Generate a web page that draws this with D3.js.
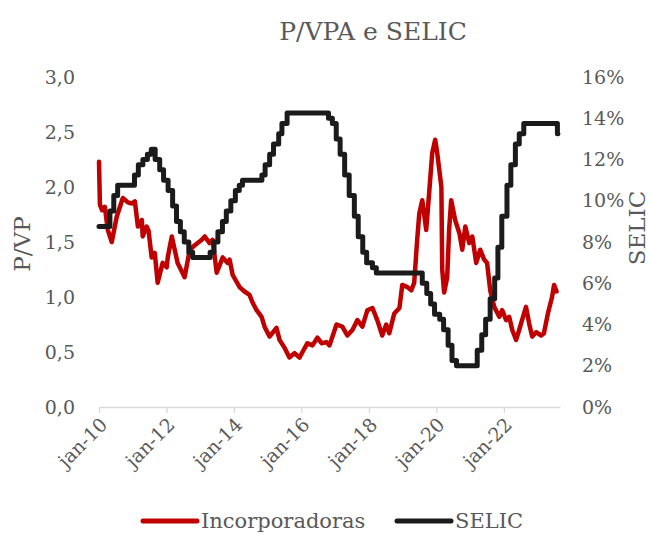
<!DOCTYPE html>
<html>
<head>
<meta charset="utf-8">
<script src="https://cdn.jsdelivr.net/npm/d3@7"></script>
<style>
    body { margin: 0; background: #fff; }
    svg text { font-family: "DejaVu Serif", serif; fill: #595959; }
</style>
</head>
<body>
<div id="chart"></div>
<script>
// Data
// P/VP das incorporadoras
var pvpDates = [
    "2010-01-01", "2010-01-11", "2010-02-03", "2010-03-05", "2010-04-06", "2010-05-19", "2010-07-12", "2010-09-16",
    "2010-11-10", "2010-12-22", "2011-01-24", "2011-02-26", "2011-04-10", "2011-04-19", "2011-06-01", "2011-06-22",
    "2011-07-25", "2011-08-28", "2011-09-28", "2011-11-21", "2012-01-04", "2012-01-15", "2012-02-28", "2012-05-01",
    "2012-07-16", "2012-09-09", "2012-11-03", "2013-01-18", "2013-02-19", "2013-04-12", "2013-05-15", "2013-06-28",
    "2013-09-01", "2013-10-25", "2013-11-15", "2013-12-18", "2014-03-03", "2014-04-25", "2014-06-18", "2014-07-21",
    "2014-09-03", "2014-10-27", "2014-11-28", "2015-01-21", "2015-04-06", "2015-05-09", "2015-07-01", "2015-08-24",
    "2015-10-18", "2015-12-12", "2016-01-13", "2016-03-06", "2016-04-30", "2016-06-22", "2016-08-06", "2016-09-28",
    "2016-10-31", "2017-01-15", "2017-03-19", "2017-05-12", "2017-07-06", "2017-08-29", "2017-10-22", "2017-12-15",
    "2018-02-08", "2018-04-01", "2018-05-25", "2018-07-07", "2018-08-09", "2018-10-02", "2018-11-27", "2018-12-28",
    "2019-02-21", "2019-04-04", "2019-05-06", "2019-06-07", "2019-06-30", "2019-08-01", "2019-09-13", "2019-10-15",
    "2019-11-17", "2019-12-19", "2020-01-10", "2020-02-24", "2020-03-04", "2020-03-25", "2020-04-27", "2020-05-18",
    "2020-06-09", "2020-07-22", "2020-09-06", "2020-10-07", "2020-11-09", "2020-12-22", "2021-01-24", "2021-03-07",
    "2021-04-19", "2021-06-01", "2021-07-03", "2021-08-06", "2021-09-18", "2021-11-12", "2021-12-13", "2022-01-25",
    "2022-02-27", "2022-04-01", "2022-05-13", "2022-06-15", "2022-07-16", "2022-08-28", "2022-10-01", "2022-11-03",
    "2022-12-16", "2023-02-09", "2023-03-10", "2023-04-22", "2023-06-06", "2023-06-28", "2023-07-25"
];
var pvpValues = [
    2.23, 1.84, 1.79, 1.82, 1.61, 1.50, 1.73, 1.90,
    1.86, 1.85, 1.87, 1.64, 1.70, 1.55, 1.64, 1.60,
    1.36, 1.40, 1.13, 1.31, 1.27, 1.36, 1.55, 1.31,
    1.18, 1.43, 1.47, 1.52, 1.55, 1.49, 1.52, 1.22,
    1.36, 1.31, 1.34, 1.20, 1.09, 1.05, 1.02, 0.95,
    0.88, 0.82, 0.73, 0.64, 0.72, 0.61, 0.54, 0.45,
    0.49, 0.45, 0.50, 0.58, 0.56, 0.63, 0.58, 0.59,
    0.56, 0.75, 0.73, 0.65, 0.70, 0.79, 0.73, 0.88,
    0.90, 0.79, 0.65, 0.75, 0.67, 0.85, 0.90, 1.11,
    1.09, 1.06, 1.13, 1.52, 1.76, 1.88, 1.61, 1.95,
    2.31, 2.43, 2.31, 2.00, 1.25, 1.04, 1.18, 1.61,
    1.88, 1.70, 1.58, 1.43, 1.64, 1.49, 1.55, 1.31,
    1.43, 1.34, 1.31, 1.06, 0.91, 0.82, 0.88, 0.79,
    0.82, 0.70, 0.61, 0.70, 0.79, 0.91, 0.76, 0.64,
    0.68, 0.65, 0.67, 0.85, 1.00, 1.11, 1.05
];

// SELIC: datas de mudanca da meta (% a.a.)
var selicDates = [
    "2010-01-01", "2010-04-29", "2010-06-10", "2010-07-22", "2011-01-20", "2011-03-03", "2011-04-21", "2011-06-09",
    "2011-07-21", "2011-09-01", "2011-10-20", "2011-12-01", "2012-01-19", "2012-03-08", "2012-04-19", "2012-05-31",
    "2012-07-12", "2012-08-30", "2012-10-11", "2013-04-18", "2013-05-30", "2013-07-11", "2013-08-29", "2013-10-10",
    "2013-11-28", "2014-01-16", "2014-02-27", "2014-04-03", "2014-10-30", "2014-12-04", "2015-01-22", "2015-03-05",
    "2015-04-30", "2015-06-04", "2015-07-30", "2016-10-20", "2016-12-01", "2017-01-12", "2017-02-23", "2017-04-13",
    "2017-06-01", "2017-07-27", "2017-09-07", "2017-10-26", "2017-12-07", "2018-02-08", "2018-03-22", "2019-08-01",
    "2019-09-19", "2019-10-31", "2019-12-12", "2020-02-06", "2020-03-19", "2020-05-07", "2020-06-18", "2020-08-06",
    "2021-03-18", "2021-05-06", "2021-06-17", "2021-08-05", "2021-09-23", "2021-10-28", "2021-12-09", "2022-02-03",
    "2022-03-17", "2022-05-05", "2022-06-16", "2022-08-04", "2023-08-03", "2023-08-08"
];
var selicValues = [
    8.75, 9.50, 10.25, 10.75, 11.25, 11.75, 12.00, 12.25,
    12.50, 12.00, 11.50, 11.00, 10.50, 9.75, 9.00, 8.50,
    8.00, 7.50, 7.25, 7.50, 8.00, 8.50, 9.00, 9.50,
    10.00, 10.50, 10.75, 11.00, 11.25, 11.75, 12.25, 12.75,
    13.25, 13.75, 14.25, 14.00, 13.75, 13.00, 12.25, 11.25,
    10.25, 9.25, 8.25, 7.50, 7.00, 6.75, 6.50, 6.00,
    5.50, 5.00, 4.50, 4.25, 3.75, 3.00, 2.25, 2.00,
    2.75, 3.50, 4.25, 5.25, 6.25, 7.75, 9.25, 10.75,
    11.75, 12.75, 13.25, 13.75, 13.25, 13.25
];

var xTickYears = [2010, 2012, 2014, 2016, 2018, 2020, 2022];
var pvpTicks = [0, 0.5, 1.0, 1.5, 2.0, 2.5, 3.0];
var selicTicks = [0, 2, 4, 6, 8, 10, 12, 14, 16];

var chartTitle = "P/VPA e SELIC";
var seriesNames = ["Incorporadoras", "SELIC"];
var seriesColors = ["#c00000", "#1b1b1b"];

// Layout
var width = 649, height = 538;
var plot = {left: 99, right: 560, top: 77, bottom: 407};

var parseDate = d3.timeParse("%Y-%m-%d");

function init() {
    var svg = d3.select("#chart")
        .append("svg")
        .attr("width", width)
        .attr("height", height);

    var x = d3.scaleTime()
        .domain([parseDate("2010-01-01"), parseDate("2023-08-31")])
        .range([plot.left, plot.right]);

    var yLeft = d3.scaleLinear()
        .domain([0, 3])
        .range([plot.bottom, plot.top]);

    var yRight = d3.scaleLinear()
        .domain([0, 16])
        .range([plot.bottom, plot.top]);

    // title
    svg.append("text")
        .attr("x", 373)
        .attr("y", 40)
        .attr("text-anchor", "middle")
        .style("font-size", "25px")
        .text(chartTitle);

    // x axis
    var xAxis = d3.axisBottom(x)
        .tickValues(xTickYears.map(function (yr) { return new Date(yr, 0, 1); }))
        .tickSize(6)
        .tickSizeOuter(0)
        .tickFormat(function (d) { return "jan-" + String(d.getFullYear()).slice(2); });

    var gx = svg.append("g")
        .attr("transform", "translate(0," + plot.bottom + ")")
        .call(xAxis);
    gx.select(".domain").attr("stroke", "#d9d9d9").attr("stroke-width", 1.3);
    gx.selectAll(".tick line").attr("stroke", "#d9d9d9").attr("stroke-width", 1.3);
    gx.selectAll(".tick text")
        .attr("y", 0)
        .attr("dy", 0)
        .attr("text-anchor", "end")
        .attr("transform", "translate(9,19) rotate(-45)")
        .style("font-size", "19px")
        .style("font-family", null);

    // left axis
    var gl = svg.append("g")
        .attr("transform", "translate(75,0)")
        .call(d3.axisLeft(yLeft)
            .tickValues(pvpTicks)
            .tickSize(0)
            .tickFormat(function (d) { return d.toFixed(1).replace(".", ","); }));
    gl.select(".domain").remove();
    gl.selectAll(".tick text").attr("x", 0).style("font-size", "19px").style("font-family", null);

    // right axis
    var gr = svg.append("g")
        .attr("transform", "translate(582,0)")
        .call(d3.axisRight(yRight)
            .tickValues(selicTicks)
            .tickSize(0)
            .tickFormat(function (d) { return d + "%"; }));
    gr.select(".domain").remove();
    gr.selectAll(".tick text").attr("x", 0).style("font-size", "19px").style("font-family", null);

    // axis titles
    svg.append("text")
        .attr("transform", "translate(30,244) rotate(-90)")
        .attr("text-anchor", "middle")
        .style("font-size", "23px")
        .text("P/VP");

    svg.append("text")
        .attr("transform", "translate(645,228) rotate(-90)")
        .attr("text-anchor", "middle")
        .style("font-size", "23px")
        .text("SELIC");

    // series
    var pvpData = pvpDates.map(function (d, i) { return {date: parseDate(d), value: pvpValues[i]}; });
    var selicData = selicDates.map(function (d, i) { return {date: parseDate(d), value: selicValues[i]}; });

    var pvpLine = d3.line()
        .x(function (d) { return x(d.date); })
        .y(function (d) { return yLeft(d.value); });

    var selicLine = d3.line()
        .curve(d3.curveStepAfter)
        .x(function (d) { return x(d.date); })
        .y(function (d) { return yRight(d.value); });

    svg.append("path")
        .datum(pvpData)
        .attr("d", pvpLine)
        .attr("fill", "none")
        .attr("stroke", seriesColors[0])
        .attr("stroke-width", 4.5)
        .attr("stroke-linejoin", "round")
        .attr("stroke-linecap", "round");

    svg.append("path")
        .datum(selicData)
        .attr("d", selicLine)
        .attr("fill", "none")
        .attr("stroke", seriesColors[1])
        .attr("stroke-width", 5)
        .attr("stroke-linejoin", "round")
        .attr("stroke-linecap", "round");

    // legend
    var legendX = [143, 397];
    var legend = svg.append("g");
    seriesNames.forEach(function (name, i) {
        legend.append("line")
            .attr("x1", legendX[i])
            .attr("x2", legendX[i] + 54)
            .attr("y1", 521)
            .attr("y2", 521)
            .attr("stroke", seriesColors[i])
            .attr("stroke-width", 5)
            .attr("stroke-linecap", "round");
        legend.append("text")
            .attr("x", legendX[i] + 58)
            .attr("y", 528)
            .style("font-size", "21px")
            .text(name);
    });
}

init();
</script>
</body>
</html>
